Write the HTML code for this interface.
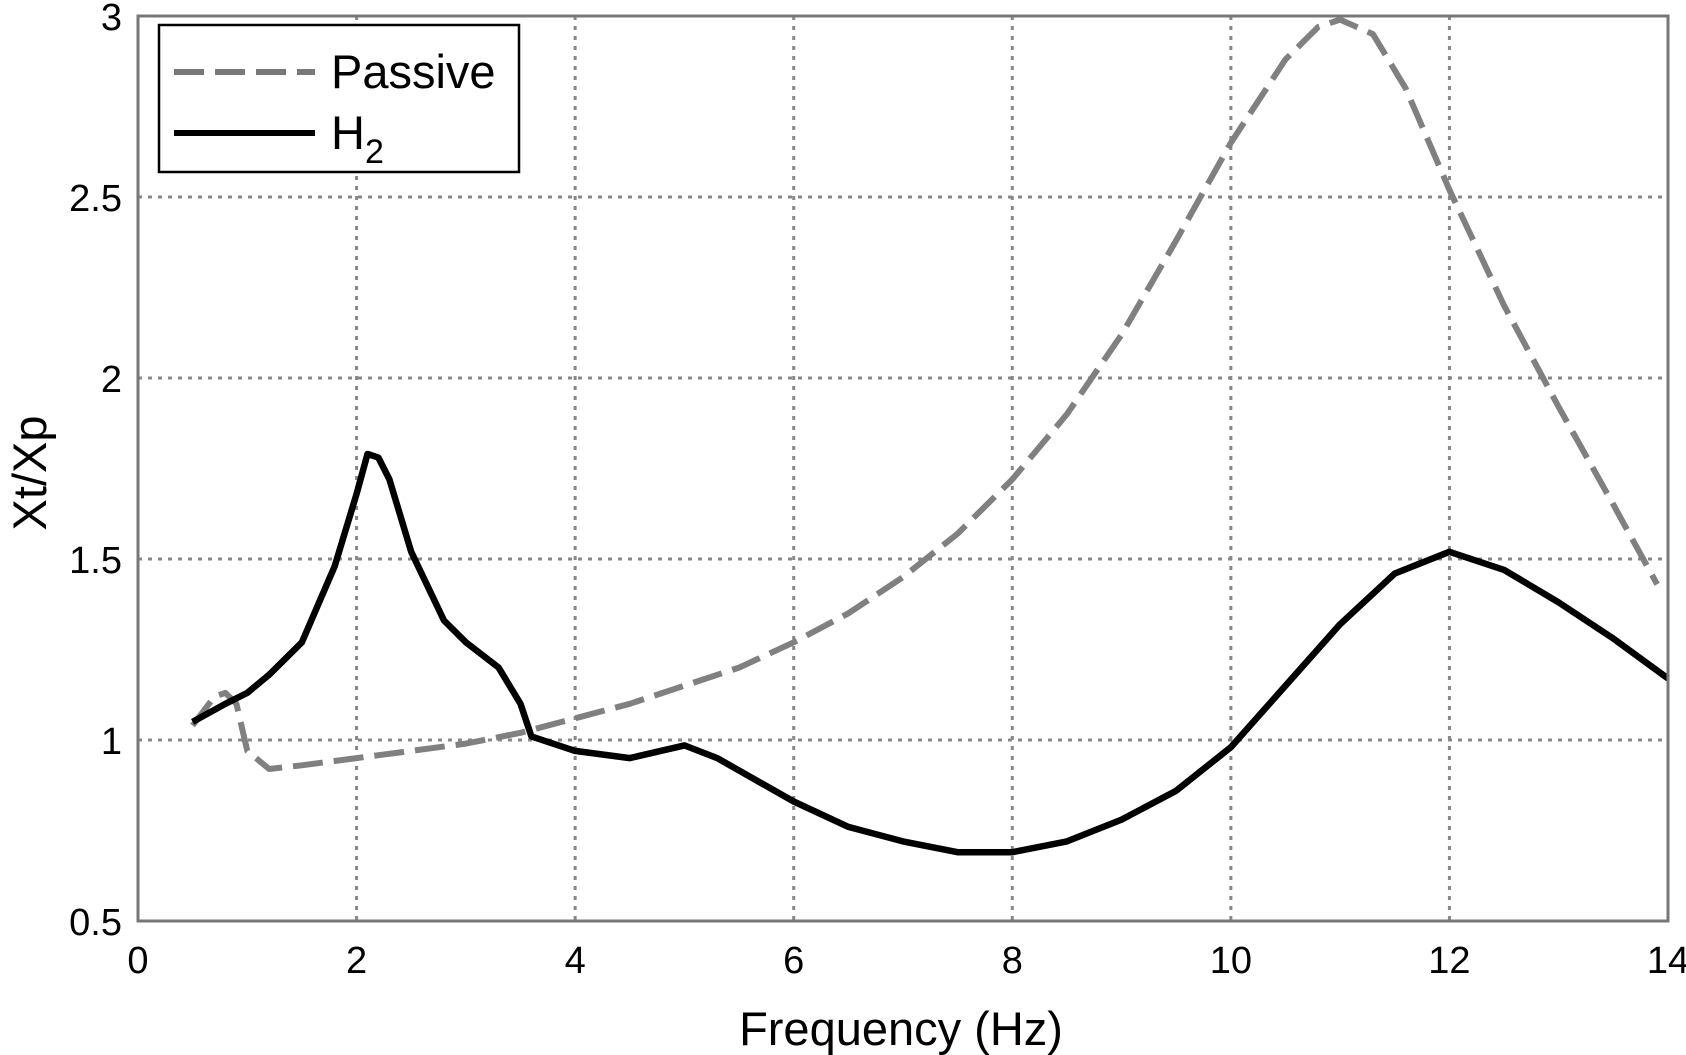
<!DOCTYPE html>
<html><head><meta charset="utf-8"><style>
html,body{margin:0;padding:0;background:#fff;}
svg{display:block;font-family:"Liberation Sans",Arial,sans-serif;}
</style></head><body>
<svg id="chart" width="1686" height="1055" xmlns="http://www.w3.org/2000/svg">
<g id="grid"></g>
<g id="series"></g>
<rect x="138" y="16" width="1530" height="905" fill="none" stroke="#777" stroke-width="3"/>
<g id="ticks"></g>
<text x="901" y="1045" font-size="47" text-anchor="middle">Frequency (Hz)</text>
<text transform="translate(46,473) rotate(-90)" font-size="47" text-anchor="middle">Xt/Xp</text>
<g>
<rect x="159" y="25" width="360" height="147" fill="#fff" stroke="#000" stroke-width="2.5"/>
<line x1="174" y1="72" x2="315" y2="72" stroke="#777" stroke-width="6" stroke-dasharray="30,11"/>
<text x="331" y="88" font-size="47">Passive</text>
<line x1="174" y1="133" x2="315" y2="133" stroke="#000" stroke-width="6"/>
<text x="331" y="149" font-size="47">H<tspan font-size="34" dy="14">2</tspan></text>
</g>
</svg>
<script>
const xTicks=[0,2,4,6,8,10,12,14];
const yTicks=[0.5,1,1.5,2,2.5,3];
const yTickLabels=["0.5","1","1.5","2","2.5","3"];
const passiveX=[0.5,0.7,0.8,0.9,1.0,1.2,1.5,2,2.5,3,3.5,4,4.5,5,5.5,6,6.5,7,7.5,8,8.5,9,9.5,10,10.5,10.8,11,11.3,11.6,12,12.5,13,13.5,13.9];
const passiveY=[1.04,1.12,1.13,1.1,0.97,0.92,0.93,0.95,0.97,0.99,1.02,1.06,1.1,1.15,1.2,1.27,1.35,1.45,1.57,1.72,1.9,2.12,2.38,2.65,2.88,2.97,2.99,2.95,2.8,2.52,2.2,1.92,1.65,1.43];
const h2X=[0.5,0.8,1,1.2,1.5,1.8,2.0,2.1,2.2,2.3,2.5,2.8,3.0,3.3,3.5,3.6,4,4.5,5,5.3,6,6.5,7,7.5,8,8.5,9,9.5,10,10.5,11,11.5,12,12.5,13,13.5,14];
const h2Y=[1.05,1.1,1.13,1.18,1.27,1.48,1.68,1.79,1.78,1.72,1.52,1.33,1.27,1.2,1.1,1.01,0.97,0.95,0.985,0.95,0.83,0.76,0.72,0.69,0.69,0.72,0.78,0.86,0.98,1.15,1.32,1.46,1.52,1.47,1.38,1.28,1.17];
const L=138,R=1668,T=16,B=921;
const sx=v=>L+(v-0)/(14-0)*(R-L);
const sy=v=>B-(v-0.5)/(3-0.5)*(B-T);
const NS="http://www.w3.org/2000/svg";
const grid=document.getElementById('grid'),ticks=document.getElementById('ticks'),series=document.getElementById('series');
function mk(tag,attrs,parent){const e=document.createElementNS(NS,tag);for(const k in attrs)e.setAttribute(k,attrs[k]);parent.appendChild(e);return e;}
xTicks.forEach(v=>{
  const g=mk('line',{x1:sx(v),x2:sx(v),y1:T,y2:B,stroke:'#888','stroke-width':3,'stroke-dasharray':'4,6'},grid);
  
  
  const t=mk('text',{x:sx(v),y:B+52,'font-size':38,'text-anchor':'middle'},ticks);
  t.textContent=String(v);
  
  
});
yTicks.forEach((v,i)=>{
  const g=mk('line',{x1:L,x2:R,y1:sy(v),y2:sy(v),stroke:'#888','stroke-width':3,'stroke-dasharray':'4,6'},grid);
  
  
  const t=mk('text',{x:L-16,y:sy(v)+14,'font-size':38,'text-anchor':'end'},ticks);
  t.textContent=yTickLabels[i];
  
  
});
function path(xs,ys){return xs.map((x,i)=>(i?'L':'M')+sx(x).toFixed(1)+','+sy(ys[i]).toFixed(1)).join(' ');}
const p1=mk('path',{d:path(passiveX,passiveY),fill:'none',stroke:'#808080','stroke-width':6,'stroke-dasharray':'30,11','stroke-linejoin':'round'},series);


const p2=mk('path',{d:path(h2X,h2Y),fill:'none',stroke:'#000','stroke-width':6.5,'stroke-linejoin':'round'},series);


</script>
</body></html>
